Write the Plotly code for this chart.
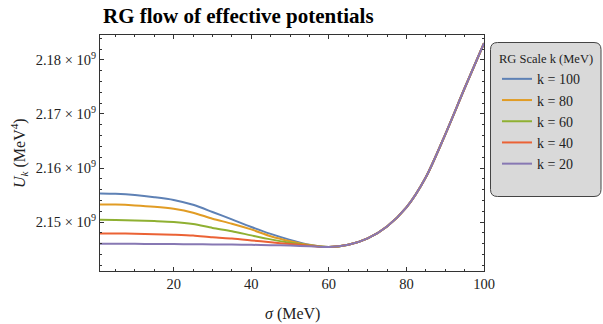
import plotly.graph_objects as go

# sigma grid (MeV)
sigma = [1, 5, 10, 15, 20, 25, 30, 35, 40, 45, 50, 55, 60, 65, 70, 75, 80, 85, 90, 95, 100]

# common (converged) right branch, sigma >= 65, in units of 1e9 MeV^4
right_branch = [2.14580, 2.14698, 2.14920, 2.15272, 2.15830, 2.16620, 2.17476, 2.18309]

# left branch values (sigma 1..60), in units of 1e9 MeV^4
u_k100 = [2.15531, 2.15523, 2.15500, 2.15462, 2.15411, 2.15320, 2.15188, 2.15050, 2.14911, 2.14782, 2.14672, 2.14580, 2.14538]
u_k80  = [2.15328, 2.15324, 2.15309, 2.15285, 2.15246, 2.15175, 2.15063, 2.14971, 2.14865, 2.14740, 2.14648, 2.14575, 2.14538]
u_k60  = [2.15044, 2.15040, 2.15031, 2.15020, 2.15004, 2.14965, 2.14893, 2.14832, 2.14755, 2.14681, 2.14620, 2.14570, 2.14538]
u_k40  = [2.14791, 2.14790, 2.14786, 2.14778, 2.14768, 2.14752, 2.14718, 2.14695, 2.14662, 2.14627, 2.14595, 2.14565, 2.14538]
u_k20  = [2.14600, 2.14600, 2.14598, 2.14596, 2.14594, 2.14591, 2.14588, 2.14584, 2.14580, 2.14574, 2.14566, 2.14553, 2.14538]

series_names = ["k = 100", "k = 80", "k = 60", "k = 40", "k = 20"]
series_left = [u_k100, u_k80, u_k60, u_k40, u_k20]
colors = ["#5E81B5", "#E19C24", "#8FB032", "#EB6235", "#8778B3"]

y_tick_vals = [2.15, 2.16, 2.17, 2.18]
y_tick_text = ["2.15 × 10<sup>9</sup>", "2.16 × 10<sup>9</sup>", "2.17 × 10<sup>9</sup>", "2.18 × 10<sup>9</sup>"]
x_tick_vals = [20, 40, 60, 80, 100]

SCALE = 1e9
FONT = "Liberation Serif"
TXT = "#222222"

fig = go.Figure()
for name, left, col in zip(series_names, series_left, colors):
    vals = [v * SCALE for v in (left + right_branch)]
    fig.add_trace(go.Scatter(
        x=sigma, y=vals, mode="lines", name=name,
        line=dict(color=col, width=2, shape="spline", smoothing=0.8),
    ))

W, H = 603, 324
ml, mr, mt, mb = 100, 119, 35, 53
pw, ph = W - ml - mr, H - mt - mb

def px_to_paper_x(px):
    return (px - ml) / pw

def px_to_paper_y(py):
    return (H - mb - py) / ph

# rounded legend box
x0, x1 = px_to_paper_x(490.5), px_to_paper_x(601)
y0, y1 = px_to_paper_y(196.5), px_to_paper_y(42.5)
rx, ry = 7 / pw, 7 / ph
path = (f"M {x0+rx},{y0} L {x1-rx},{y0} Q {x1},{y0} {x1},{y0+ry} "
        f"L {x1},{y1-ry} Q {x1},{y1} {x1-rx},{y1} L {x0+rx},{y1} "
        f"Q {x0},{y1} {x0},{y1-ry} L {x0},{y0+ry} Q {x0},{y0} {x0+rx},{y0} Z")
fig.add_shape(type="path", path=path, xref="paper", yref="paper",
              fillcolor="#D9D9D9", line=dict(color="#444444", width=1), layer="below")

fig.update_layout(
    width=W, height=H,
    margin=dict(l=ml, r=mr, t=mt, b=mb, autoexpand=False),
    paper_bgcolor="white", plot_bgcolor="white",
    font=dict(family=FONT, size=14, color=TXT),
    title=dict(text="<b>RG flow of effective potentials</b>", x=103 / W, xanchor="left",
               y=1 - 16 / H, yanchor="middle", font=dict(family=FONT, size=21, color="black")),
    showlegend=True,
    legend=dict(
        x=px_to_paper_x(497), y=px_to_paper_y(47), xanchor="left", yanchor="top",
        bgcolor="rgba(0,0,0,0)", borderwidth=0,
        title=dict(text="RG Scale k (MeV)", font=dict(family=FONT, size=12.5, color=TXT)),
        font=dict(family=FONT, size=14, color=TXT),
        tracegroupgap=0,
    ),
    xaxis=dict(
        range=[1, 100], showgrid=False, zeroline=False,
        showline=True, linecolor="#333333", linewidth=1, mirror="ticks",
        ticks="inside", ticklen=4, tickcolor="#333333", tickwidth=1,
        tickvals=x_tick_vals, tickfont=dict(family=FONT, size=14.5, color=TXT),
        minor=dict(dtick=5, tick0=0, ticks="inside", ticklen=2, tickcolor="#333333"),
    ),
    yaxis=dict(
        range=[2.14096 * SCALE, 2.18461 * SCALE], showgrid=False, zeroline=False,
        showline=True, linecolor="#333333", linewidth=1, mirror="ticks",
        ticks="inside", ticklen=4, tickcolor="#333333", tickwidth=1,
        tickvals=[v * SCALE for v in y_tick_vals], ticktext=y_tick_text,
        tickfont=dict(family=FONT, size=14.5, color=TXT),
        minor=dict(dtick=0.002 * SCALE, tick0=2.14 * SCALE, ticks="inside", ticklen=2, tickcolor="#333333"),
    ),
    annotations=[
        dict(text="<i>σ</i> (MeV)", x=0.5, y=-0.135, xref="paper", yref="paper",
             xanchor="center", yanchor="top", showarrow=False,
             font=dict(family=FONT, size=16, color=TXT)),
        dict(text="<i>U</i><sub><i>k</i></sub> (MeV<sup>4</sup>)", x=-81 / pw, y=0.5,
             xref="paper", yref="paper", xanchor="center", yanchor="middle",
             textangle=-90, showarrow=False,
             font=dict(family=FONT, size=16, color=TXT)),
    ],
)

fig.write_html("out.html")
